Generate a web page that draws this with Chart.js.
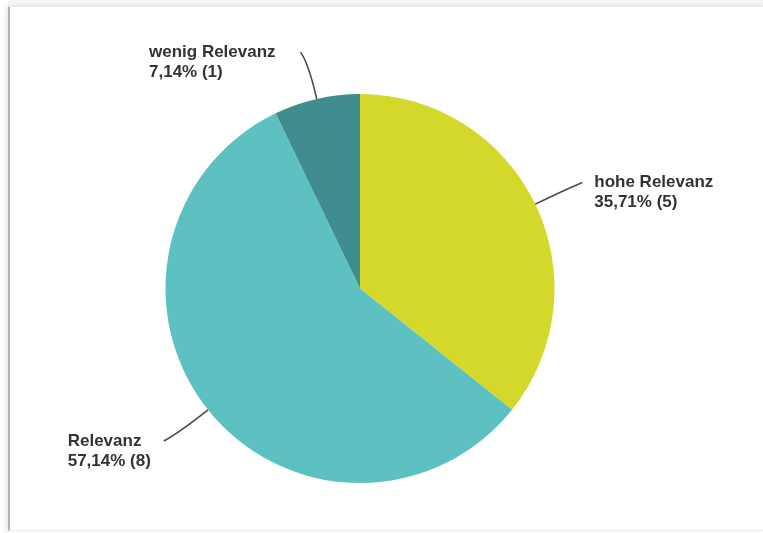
<!DOCTYPE html>
<html lang="de">
<head>
    <meta charset="UTF-8">
    <title>Relevanz</title>
    <script src="https://cdn.jsdelivr.net/npm/chart.js"></script>
    <style>
        html, body {
            margin: 0;
            padding: 0;
            background: #fff;
        }
        .frame-top {
            position: absolute;
            left: 8px;
            top: 0;
            width: 755px;
            height: 7px;
            background: linear-gradient(#f7f7f7, #eeeeee);
        }
        .frame {
            position: absolute;
            left: 8px;
            top: 7px;
            width: 755px;
            height: 523px;
            border-left: 2px solid #b4b4b4;
            border-bottom: 1px solid #ececec;
            box-shadow: -3px 0 4px rgba(0,0,0,0.08);
        }
        .chart-box {
            position: absolute;
            left: 0;
            top: 0;
            width: 763px;
            height: 533px;
        }
    </style>
</head>
<body>
<div class="frame-top"></div>
<div class="frame"></div>
<div class="chart-box">
    <canvas id="pieChart"></canvas>
</div>

<script>
    const categories = ['hohe Relevanz', 'Relevanz', 'wenig Relevanz'];
    const counts = [5, 8, 1];
    const percentLabels = ['35,71%', '57,14%', '7,14%'];
    const colors = ['#d3d82b', '#5dc0c1', '#408d8f'];

    // small manual nudges for the label text blocks (px)
    const labelShiftX = [0, 3, -9];

    // labels with curved leader lines, drawn after the pie
    const leaderLabels = {
        id: 'leaderLabels',
        afterDatasetsDraw(chart) {
            const ctx = chart.ctx;
            const arcs = chart.getDatasetMeta(0).data;
            ctx.save();
            ctx.font = 'bold 17px "Liberation Sans", Arial, sans-serif';
            ctx.textBaseline = 'alphabetic';
            arcs.forEach((arc, i) => {
                const mid = (arc.startAngle + arc.endAngle) / 2;
                const r = arc.outerRadius;
                const cx = arc.x, cy = arc.y;
                const cos = Math.cos(mid), sin = Math.sin(mid);
                const sx = cx + cos * r, sy = cy + sin * r;
                const qx = cx + cos * (r + 36), qy = cy + sin * (r + 36);
                const ex = cx + cos * (r + 50) + (cos > 0 ? 2 : -5), ey = cy + sin * (r + 50) + (sin < -0.9 ? 2 : 0);

                ctx.strokeStyle = '#4a4a4a';
                ctx.lineWidth = 1.6;
                ctx.beginPath();
                ctx.moveTo(sx, sy);
                ctx.quadraticCurveTo(qx, qy, ex, ey);
                ctx.stroke();

                const lines = [categories[i], percentLabels[i] + ' (' + counts[i] + ')'];
                const w = Math.max(...lines.map(t => ctx.measureText(t).width));
                const tx = (cos > 0 ? ex + 12 : ex - 16 - w) + labelShiftX[i];
                ctx.fillStyle = '#333';
                ctx.textAlign = 'left';
                lines.forEach((t, k) => ctx.fillText(t, tx, ey + 5 + k * 20));
            });
            ctx.restore();
        }
    };

    new Chart(document.getElementById('pieChart'), {
        type: 'pie',
        data: {
            labels: categories,
            datasets: [{
                data: counts,
                backgroundColor: colors,
                borderWidth: 0
            }]
        },
        options: {
            responsive: true,
            maintainAspectRatio: false,
            animation: false,
            layout: {
                padding: { top: 94, bottom: 50, left: 0, right: 43 }
            },
            plugins: {
                legend: { display: false },
                tooltip: { enabled: false }
            }
        },
        plugins: [leaderLabels]
    });
</script>
</body>
</html>
